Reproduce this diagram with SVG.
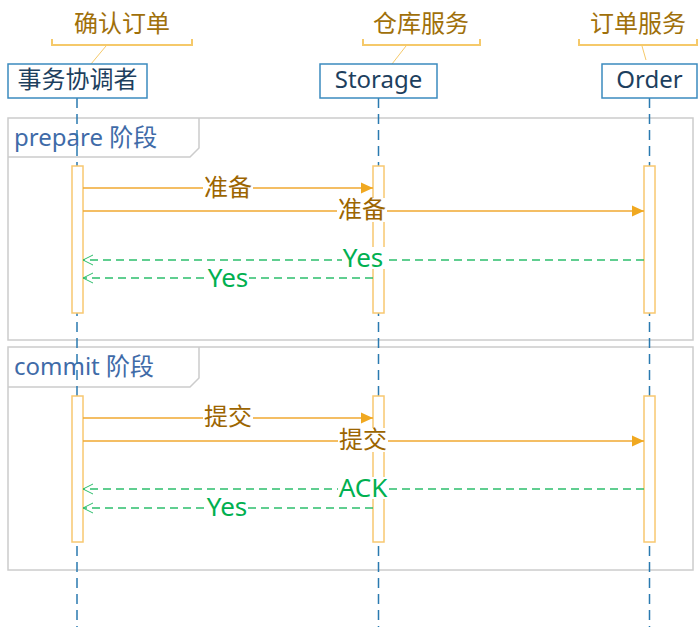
<svg xmlns="http://www.w3.org/2000/svg" width="699" height="627" viewBox="0 0 699 627">
<defs>
<style>
.t{font-family:"Noto Sans","Noto Sans CJK SC",sans-serif;font-size:24px}
.lbl{fill:#A0700A;text-anchor:middle}
.msg{fill:#9C6500;text-anchor:middle}
.ok{fill:#00B050;text-anchor:middle;font-size:26px}
.pt{fill:#1D3F5E;text-anchor:middle}
.ft{fill:#3F6BA8}
.box{fill:#fff;stroke:#3B8BBF;stroke-width:1.5}
.br{fill:none;stroke:#F5C96A;stroke-width:2}
.brl{stroke:#F5C96A;stroke-width:1}
.life{stroke:#2A7AB0;stroke-width:1.5;stroke-dasharray:10 6}
.frame{fill:none;stroke:#CCCCCC;stroke-width:1.5}
.act{fill:#fff;stroke:#F8C870;stroke-width:1.5}
.call{stroke:#F0A830;stroke-width:1.5;fill:none;marker-end:url(#fa)}
.ret{stroke:#2DBE6C;stroke-width:1.5;fill:none;stroke-dasharray:8 5;marker-end:url(#oa)}
.bg{fill:#fff}
</style>
<marker id="fa" markerWidth="13" markerHeight="12" refX="12" refY="6" orient="auto" markerUnits="userSpaceOnUse">
<path d="M0,0.5 L12,6 L0,11.5 Z" fill="#F0A820"/>
</marker>
<marker id="oa" markerWidth="12" markerHeight="12" refX="11" refY="6" orient="auto" markerUnits="userSpaceOnUse">
<path d="M1,1 L11,6 L1,11" fill="none" stroke="#2DBE6C" stroke-width="1"/>
</marker>
</defs>
<rect width="699" height="627" fill="#fff"/>

<g id="frames">
<g id="frame-prepare">
<rect class="frame" x="8" y="118" width="685" height="222"/>
<path class="frame" d="M8,157 H190 L199,148 V118"/>
<text class="t ft" x="14" y="146">prepare 阶段</text>
</g>
<g id="frame-commit">
<rect class="frame" x="8" y="347" width="685" height="223"/>
<path class="frame" d="M8,387 H190 L199,378 V347"/>
<text class="t ft" x="14" y="375">commit 阶段</text>
</g>
</g>

<g id="lifelines">
<line class="life" x1="77" y1="98" x2="77" y2="627"/>
<line class="life" x1="378.5" y1="98" x2="378.5" y2="627"/>
<line class="life" x1="649.5" y1="98" x2="649.5" y2="627"/>
</g>

<g id="coordinator">
<text class="t lbl" x="122" y="32">确认订单</text>
<path class="br" d="M52,39 V45 H192 V39"/>
<line class="brl" x1="106" y1="46" x2="91" y2="64"/>
<rect class="box" x="8" y="64" width="139" height="34"/>
<text class="t pt" x="77.5" y="88">事务协调者</text>
</g>
<g id="storage">
<text class="t lbl" x="421" y="32">仓库服务</text>
<path class="br" d="M363,39 V45 H480 V39"/>
<line class="brl" x1="406" y1="46" x2="392" y2="64"/>
<rect class="box" x="320" y="64" width="117" height="34"/>
<text class="t pt" x="378.5" y="88">Storage</text>
</g>
<g id="order">
<text class="t lbl" x="638" y="32">订单服务</text>
<path class="br" d="M579,39 V45 H697 V39"/>
<line class="brl" x1="642" y1="46" x2="646" y2="60"/>
<rect class="box" x="602" y="64" width="95" height="34"/>
<text class="t pt" x="649.5" y="88">Order</text>
</g>

<g id="activations">
<rect class="act" x="72" y="166" width="11" height="147"/>
<rect class="act" x="373" y="166" width="11" height="147"/>
<rect class="act" x="644" y="166" width="11" height="147"/>
<rect class="act" x="72" y="396" width="11" height="146"/>
<rect class="act" x="373" y="396" width="11" height="146"/>
<rect class="act" x="644" y="396" width="11" height="146"/>
</g>

<g id="connectors">
<line class="call" x1="83" y1="188" x2="373" y2="188"/>
<line class="call" x1="83" y1="211" x2="644" y2="211"/>
<line class="ret" x1="644" y1="260" x2="83" y2="260"/>
<line class="ret" x1="373" y1="278" x2="83" y2="278"/>
<line class="call" x1="83" y1="418" x2="373" y2="418"/>
<line class="call" x1="83" y1="441" x2="644" y2="441"/>
<line class="ret" x1="644" y1="489" x2="83" y2="489"/>
<line class="ret" x1="373" y1="508" x2="83" y2="508"/>

<rect class="bg" x="203" y="176" width="50" height="23"/>
<text class="t msg" x="228" y="196">准备</text>
<rect class="bg" x="337" y="198" width="50" height="24"/>
<text class="t msg" x="362" y="218">准备</text>
<rect class="bg" x="342" y="247" width="43" height="22"/>
<text class="t ok" x="363" y="267">Yes</text>
<rect class="bg" x="207" y="266" width="42" height="22"/>
<text class="t ok" x="228" y="287">Yes</text>

<rect class="bg" x="203" y="405" width="50" height="23"/>
<text class="t msg" x="228" y="425">提交</text>
<rect class="bg" x="338" y="428" width="50" height="24"/>
<text class="t msg" x="363" y="448">提交</text>
<rect class="bg" x="338" y="477" width="50" height="22"/>
<text class="t ok" x="363" y="497">ACK</text>
<rect class="bg" x="206" y="496" width="42" height="22"/>
<text class="t ok" x="227" y="516">Yes</text>
</g>
</svg>
